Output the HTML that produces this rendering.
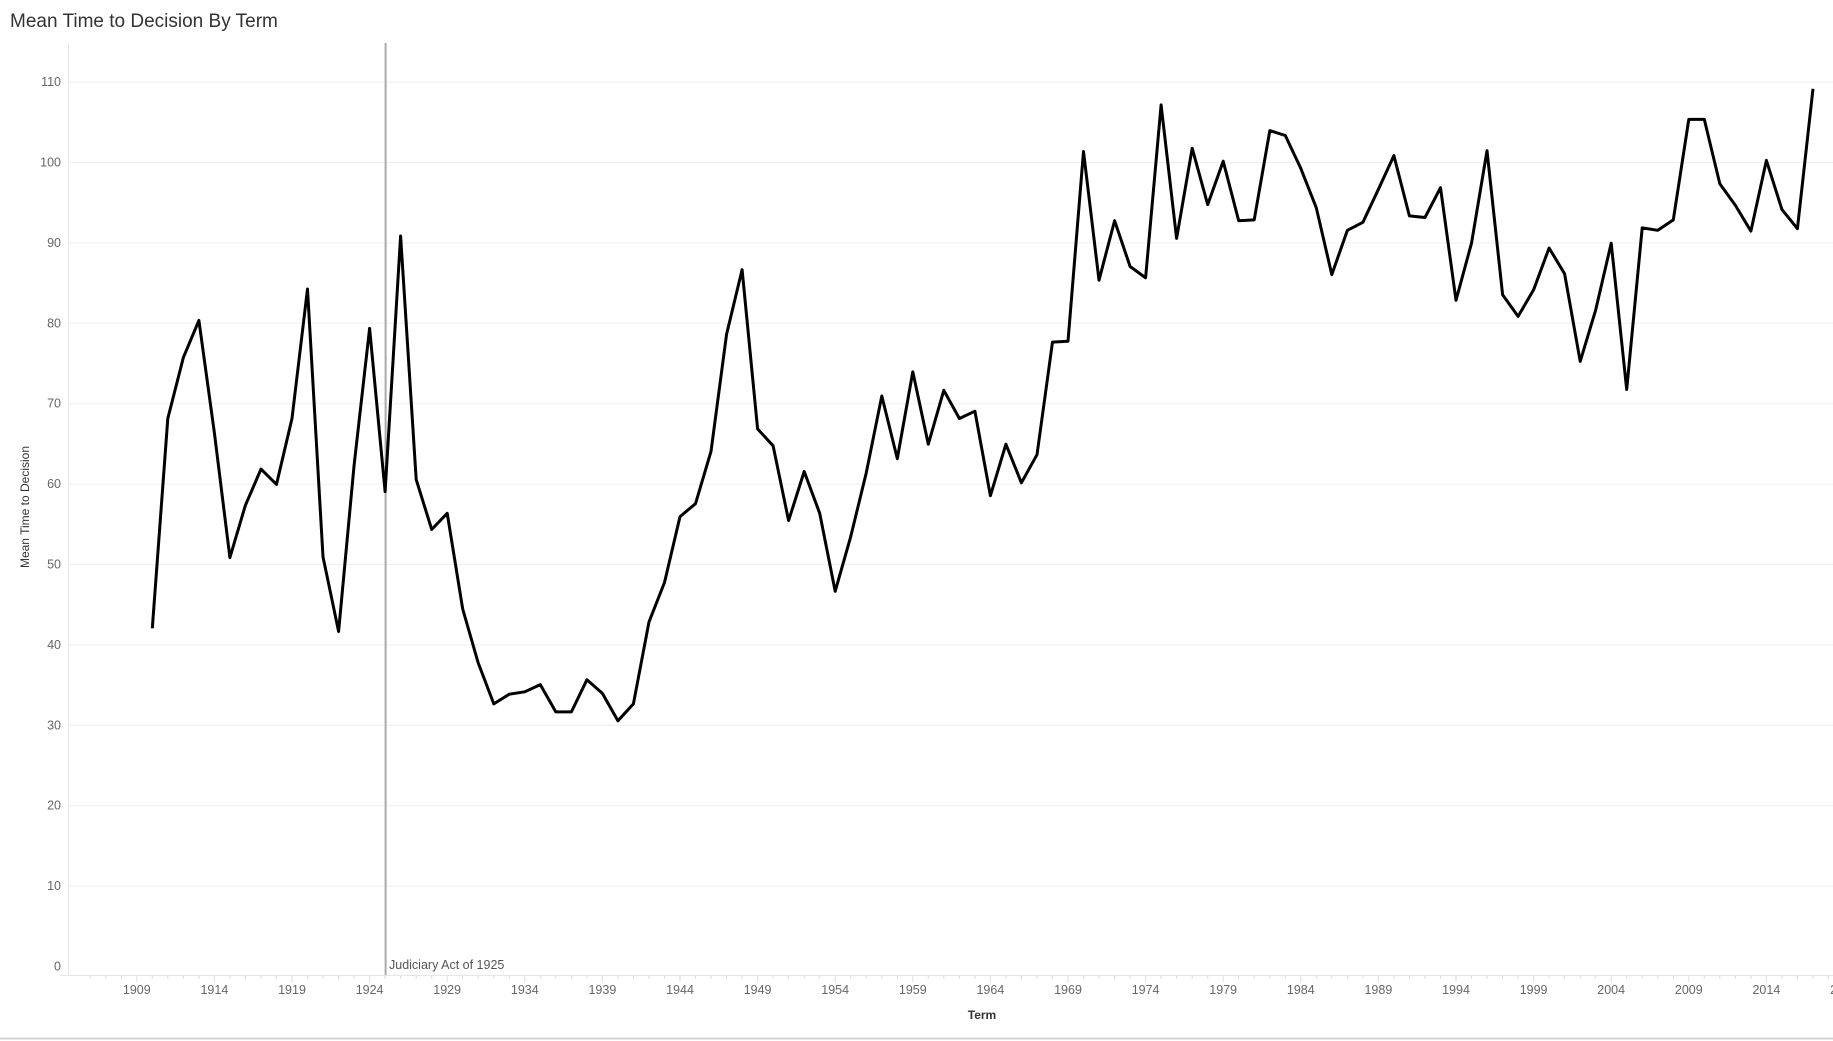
<!DOCTYPE html>
<html><head><meta charset="utf-8"><style>
html,body{margin:0;padding:0;background:#fff;width:1833px;height:1041px;overflow:hidden}
svg{display:block;font-family:"Liberation Sans",sans-serif}
</style></head><body>
<svg id="s" width="1833" height="1041" viewBox="0 0 1833 1041">
<text x="10" y="27" font-size="19" fill="#333">Mean Time to Decision By Term</text>
<g id="grid"></g>
<line x1="68.5" y1="43" x2="68.5" y2="975" stroke="#e6e6e6"/>
<line x1="60" y1="975.5" x2="1833" y2="975.5" stroke="#e6e6e6"/>
<line x1="385.6" y1="43" x2="385.6" y2="975" stroke="#aaa" stroke-width="2"/>
<text x="389" y="969" font-size="12.5" fill="#555">Judiciary Act of 1925</text>
<text x="982" y="1019" font-size="12" font-weight="bold" fill="#333" text-anchor="middle">Term</text>
<text transform="translate(29,507) rotate(-90)" font-size="12" fill="#333" text-anchor="middle">Mean Time to Decision</text>
<line x1="0" y1="1038.5" x2="1833" y2="1038.5" stroke="#d4d4d4" stroke-width="2"/>
<polyline id="pl" fill="none" stroke="#000" stroke-width="3" stroke-linejoin="round"/>
</svg>
<script>
var v=[42,68.1,75.7,80.3,66.3,50.8,57.3,61.8,59.9,68.1,84.2,50.9,41.6,62.3,79.3,59,90.8,60.5,54.3,56.3,44.4,37.7,32.6,33.8,34.1,35,31.6,31.6,35.6,33.9,30.5,32.6,42.8,47.7,55.9,57.5,64,78.6,86.6,66.8,64.7,55.4,61.5,56.3,46.6,53.4,61.3,70.9,63.1,73.9,64.9,71.6,68.1,69,58.5,64.9,60.1,63.6,77.6,77.7,101.3,85.3,92.7,87,85.6,107.1,90.5,101.7,94.7,100.1,92.7,92.8,103.9,103.3,99.2,94.3,86,91.5,92.5,96.6,100.8,93.3,93.1,96.8,82.8,89.9,101.4,83.5,80.8,84.1,89.3,86.1,75.2,81.6,89.9,71.7,91.8,91.5,92.8,105.3,105.3,97.3,94.6,91.4,100.2,94.1,91.7,109.1];
function X(y){return 136.8+(y-1909)*15.52}
function Y(d){return 966-d*8.04}
document.getElementById('pl').setAttribute('points',v.map(function(d,i){return X(1910+i).toFixed(1)+','+Y(d).toFixed(1)}).join(' '));
var g='';
for(var k=0;k<=110;k+=10){var y=Y(k);
 if(k>0)g+='<line x1="69" x2="1833" y1="'+(y+.5)+'" y2="'+(y+.5)+'" stroke="#efefef"/>';
 g+='<text x="61" y="'+(y+4.5)+'" font-size="12.5" fill="#666" text-anchor="end">'+k+'</text>';}
for(var yr=1906;yr<=2019;yr++){var x=X(yr);var major=(yr-1909)%5==0;
 g+='<line x1="'+x+'" x2="'+x+'" y1="976" y2="'+(major?982:979)+'" stroke="#ddd"/>';
 if(major)g+='<text x="'+x+'" y="994" font-size="12.5" fill="#666" text-anchor="middle">'+yr+'</text>';}
document.getElementById('grid').innerHTML=g;
</script>
</body></html>
